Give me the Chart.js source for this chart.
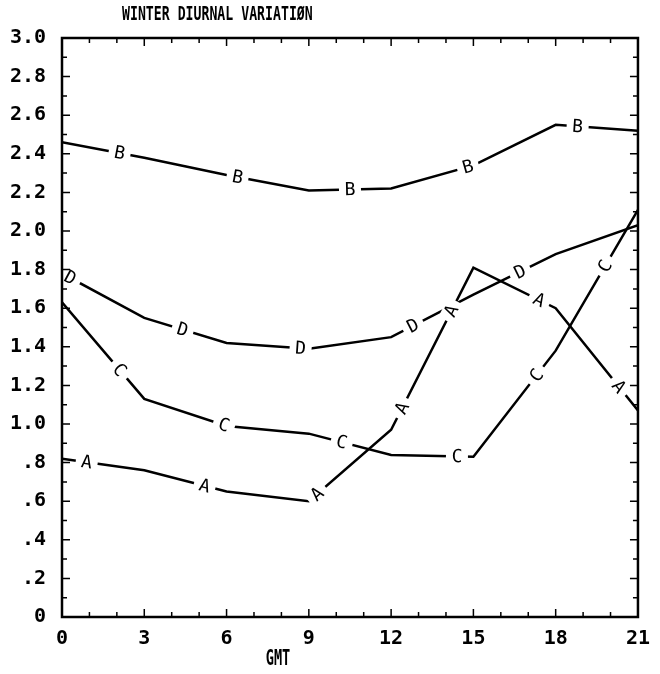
<!DOCTYPE html>
<html>
<head>
<meta charset="utf-8">
<script src="https://cdn.jsdelivr.net/npm/chart.js@4.4.0/dist/chart.umd.min.js"></script>
<style>
  html, body { margin: 0; background: #fff; }
  #wrap { width: 660px; height: 674px; }
</style>
</head>
<body>
<div id="wrap"><canvas id="chart"></canvas></div>
<script>
// hours GMT (one reading every 3 h)
const gmt = [0, 3, 6, 9, 12, 15, 18, 21];
const seriesA = [0.82, 0.76, 0.65, 0.60, 0.97, 1.81, 1.60, 1.07];
const seriesB = [2.46, 2.38, 2.29, 2.21, 2.22, 2.34, 2.55, 2.52];
const seriesC = [1.63, 1.13, 0.99, 0.95, 0.84, 0.83, 1.38, 2.11];
const seriesD = [1.78, 1.55, 1.42, 1.39, 1.45, 1.67, 1.88, 2.03];
// where the curve letters sit along each line (hours)
const lettersA = [0.9, 5.2, 9.3, 12.4, 14.2, 17.4, 20.3];
const lettersB = [2.1, 6.4, 10.5, 14.8, 18.8];
const lettersC = [2.1, 5.9, 10.2, 14.4, 17.3, 19.8];
const lettersD = [0.3, 4.4, 8.7, 12.8, 16.7];
const xTicks = [0, 3, 6, 9, 12, 15, 18, 21];

const plotFont = '"DejaVu Sans Mono", monospace';

function makeSet(letter, values, marks) {
  return {
    label: letter,
    letter: letter,
    marks: marks,
    data: gmt.map((h, i) => ({ x: h, y: values[i] })),
    borderColor: '#000',
    borderWidth: 2.5,
    pointRadius: 0,
    tension: 0,
    fill: false
  };
}

// letters drawn on the curves, rotated along the segment
const curveLetters = {
  id: 'curveLetters',
  afterDatasetsDraw(chart) {
    const ctx = chart.ctx;
    const xs = chart.scales.x, ys = chart.scales.y;
    chart.data.datasets.forEach(ds => {
      ds.marks.forEach(h => {
        let i = Math.min(Math.floor(h / 3), gmt.length - 2);
        const a = ds.data[i], b = ds.data[i + 1];
        const t = (h - a.x) / (b.x - a.x);
        const v = a.y + t * (b.y - a.y);
        const px = xs.getPixelForValue(h), py = ys.getPixelForValue(v);
        const ang = Math.atan2(ys.getPixelForValue(b.y) - ys.getPixelForValue(a.y),
                               xs.getPixelForValue(b.x) - xs.getPixelForValue(a.x));
        ctx.save();
        ctx.translate(px, py);
        ctx.rotate(ang);
        ctx.fillStyle = '#fff';
        ctx.fillRect(-11, -9, 22, 18);
        ctx.fillStyle = '#000';
        ctx.font = '18px ' + plotFont;
        ctx.textAlign = 'center';
        ctx.textBaseline = 'middle';
        ctx.fillText(ds.letter, 0, 1);
        ctx.restore();
      });
    });
  }
};

// frame with inward ticks on all four sides, plus free-standing titles
const frame = {
  id: 'frame',
  afterDraw(chart) {
    const ctx = chart.ctx;
    const { left, right, top, bottom } = chart.chartArea;
    const xs = chart.scales.x, ys = chart.scales.y;
    ctx.save();
    ctx.strokeStyle = '#000';
    ctx.lineWidth = 2.5;
    ctx.strokeRect(left, top, right - left, bottom - top);
    ctx.lineWidth = 1.5;
    ctx.beginPath();
    for (let h = 1; h < 21; h++) {
      const px = xs.getPixelForValue(h);
      const len = h % 3 === 0 ? 8 : 5;
      ctx.moveTo(px, bottom); ctx.lineTo(px, bottom - len);
      ctx.moveTo(px, top); ctx.lineTo(px, top + len);
    }
    for (let k = 1; k < 30; k++) {
      const py = ys.getPixelForValue(k / 10);
      const len = k % 2 === 0 ? 8 : 5;
      ctx.moveTo(left, py); ctx.lineTo(left + len, py);
      ctx.moveTo(right, py); ctx.lineTo(right - len, py);
    }
    ctx.stroke();

    ctx.fillStyle = '#000';
    ctx.textBaseline = 'middle';
    ctx.textAlign = 'left';
    ctx.font = 'bold 15px ' + plotFont;
    ctx.save();
    ctx.translate(122, 15);
    ctx.scale(0.88, 1.35);
    ctx.fillText('WINTER DIURNAL VARIATIØN', 0, 0);
    ctx.restore();
    ctx.textAlign = 'center';
    ctx.font = 'bold 16px ' + plotFont;
    ctx.save();
    ctx.translate(278, 660);
    ctx.scale(0.85, 1.3);
    ctx.fillText('GMT', 0, 0);
    ctx.restore();
    ctx.restore();
  }
};

new Chart(document.getElementById('chart'), {
  type: 'line',
  data: {
    datasets: [
      makeSet('A', seriesA, lettersA),
      makeSet('B', seriesB, lettersB),
      makeSet('C', seriesC, lettersC),
      makeSet('D', seriesD, lettersD)
    ]
  },
  options: {
    responsive: true,
    maintainAspectRatio: false,
    animation: false,
    layout: { padding: { top: 38, right: 20, left: 0, bottom: 0 } },
    plugins: {
      legend: { display: false },
      title: { display: false },
      tooltip: { enabled: false }
    },
    scales: {
      x: {
        type: 'linear',
        min: 0,
        max: 21,
        afterBuildTicks: scale => { scale.ticks = xTicks.map(v => ({ value: v })); },
        afterFit: scale => { scale.height = 57; },
        grid: { display: false, drawTicks: false },
        border: { display: false },
        ticks: {
          padding: 10,
          maxRotation: 0,
          color: '#000',
          font: { family: plotFont, size: 20, weight: 'bold' }
        }
      },
      y: {
        type: 'linear',
        min: 0,
        max: 3,
        afterFit: scale => { scale.width = 62; },
        grid: { display: false, drawTicks: false },
        border: { display: false },
        ticks: {
          stepSize: 0.2,
          padding: 16,
          color: '#000',
          font: { family: plotFont, size: 20, weight: 'bold' },
          callback: v => {
            const r = Math.round(v * 10) / 10;
            if (r === 0) return '0';
            if (r < 1) return '.' + Math.round(r * 10);
            return r.toFixed(1);
          }
        }
      }
    }
  },
  plugins: [curveLetters, frame]
});
</script>
</body>
</html>
